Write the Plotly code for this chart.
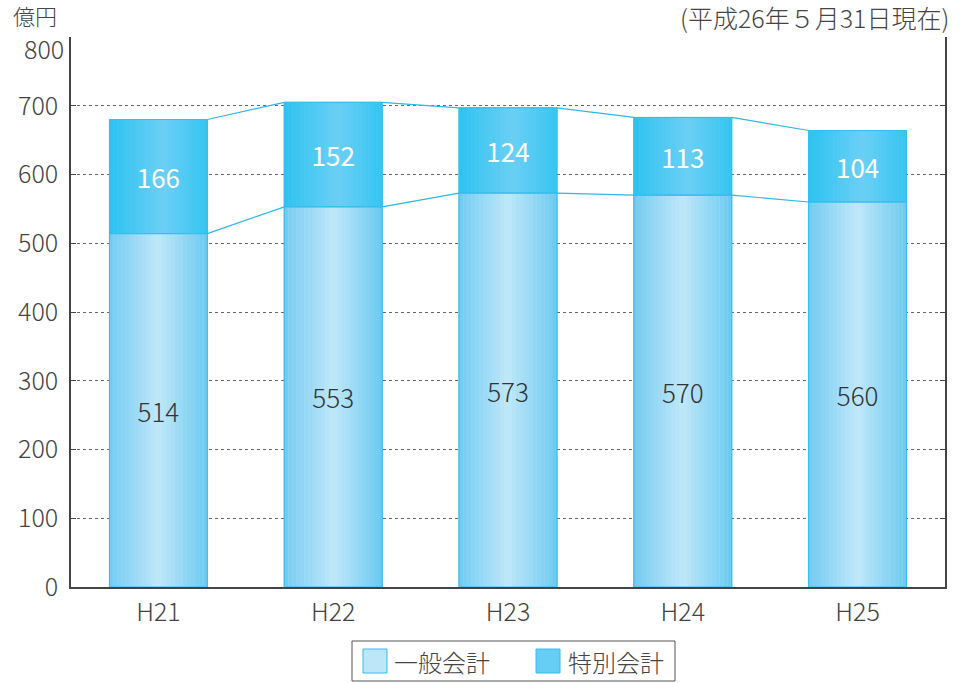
import plotly.graph_objects as go

categories = ["H21", "H22", "H23", "H24", "H25"]
general = [514, 553, 573, 570, 560]   # 一般会計
special = [166, 152, 124, 113, 104]   # 特別会計
series_names = ["一般会計", "特別会計"]
y_ticks = [0, 100, 200, 300, 400, 500, 600, 700, 800]
y_ticktext = ["0", "100", "200", "300", "400", "500", "600", "700", ""]

FONT = "Noto Sans CJK JP, Noto Sans, sans-serif"
TXT = "#444444"
EDGE = "#36bdec"
BAR_W = 0.56
N_STRIPS = 24
FS = 25
FW = 300

low_stops = [(0.0, (0x72, 0xcb, 0xf2)), (0.5, (0xc0, 0xe7, 0xf9)), (1.0, (0x6a, 0xca, 0xf0))]
up_stops = [(0.0, (0x2c, 0xc3, 0xf1)), (0.55, (0x6c, 0xcf, 0xf5)), (1.0, (0x34, 0xc4, 0xf2))]

L_PLOT, R_PLOT, T_PLOT, B_PLOT = 71, 945, 37, 587
PW, PH = R_PLOT - L_PLOT, B_PLOT - T_PLOT


def px_x(p):
    return (p - L_PLOT) / PW


def px_y(p):
    return (B_PLOT - p) / PH


def grad(stops, t):
    for (t0, c0), (t1, c1) in zip(stops[:-1], stops[1:]):
        if t0 <= t <= t1:
            f = (t - t0) / (t1 - t0)
            c = [round(a + (b - a) * f) for a, b in zip(c0, c1)]
            return "rgb(%d,%d,%d)" % tuple(c)
    return "rgb(%d,%d,%d)" % stops[-1][1]


x = list(range(len(categories)))
totals = [g + s for g, s in zip(general, special)]

fig = go.Figure()

# base traces (carry the series names)
fig.add_trace(go.Bar(x=x, y=general, base=0, width=BAR_W, name=series_names[0], showlegend=False,
                     marker=dict(color="#bde6f8", line=dict(color=EDGE, width=1))))
fig.add_trace(go.Bar(x=x, y=special, base=general, width=BAR_W, name=series_names[1], showlegend=False,
                     marker=dict(color="#66cdf4", line=dict(color=EDGE, width=1))))

# gradient strips
sw = BAR_W / N_STRIPS
for k in range(N_STRIPS):
    t = (k + 0.5) / N_STRIPS
    off = -BAR_W / 2 + k * sw
    fig.add_trace(go.Bar(x=x, y=general, base=0, width=sw * 1.03, offset=off,
                         marker=dict(color=grad(low_stops, t), line=dict(width=0)),
                         showlegend=False, hoverinfo="skip"))
    fig.add_trace(go.Bar(x=x, y=special, base=general, width=sw * 1.03, offset=off,
                         marker=dict(color=grad(up_stops, t), line=dict(width=0)),
                         showlegend=False, hoverinfo="skip"))

# outlines with labels
fig.add_trace(go.Bar(x=x, y=general, base=0, width=BAR_W, showlegend=False,
                     marker=dict(color="rgba(0,0,0,0)", line=dict(color=EDGE, width=1)),
                     text=[str(v) for v in general], textposition="inside",
                     insidetextanchor="middle", textangle=0,
                     textfont=dict(family=FONT, size=FS + 1, color="#333333", weight=FW)))
fig.add_trace(go.Bar(x=x, y=special, base=general, width=BAR_W, showlegend=False,
                     marker=dict(color="rgba(0,0,0,0)", line=dict(color=EDGE, width=1)),
                     text=[str(v) for v in special], textposition="inside",
                     insidetextanchor="middle", textangle=0,
                     textfont=dict(family=FONT, size=FS + 1, color="#ffffff", weight=400)))

# connector lines between bars
for tops in (general, totals):
    lx, ly = [], []
    for i in range(len(x) - 1):
        lx += [x[i] + BAR_W / 2, x[i + 1] - BAR_W / 2, None]
        ly += [tops[i], tops[i + 1], None]
    fig.add_trace(go.Scatter(x=lx, y=ly, mode="lines", showlegend=False,
                             line=dict(color="#2bb8ea", width=1.2), hoverinfo="skip"))

# manual legend (box, swatches, labels)
shapes = [
    dict(type="rect", xref="paper", yref="paper",
         x0=px_x(352), x1=px_x(675), y0=px_y(641), y1=px_y(681),
         line=dict(color="#555555", width=1), fillcolor="white"),
    dict(type="rect", xref="paper", yref="paper",
         x0=px_x(363), x1=px_x(387), y0=px_y(649), y1=px_y(673),
         line=dict(color=EDGE, width=1), fillcolor="#bde6f8"),
    dict(type="rect", xref="paper", yref="paper",
         x0=px_x(536), x1=px_x(560), y0=px_y(649), y1=px_y(673),
         line=dict(color=EDGE, width=1), fillcolor="#66cdf4"),
]

annotations = [
    dict(text="億円", xref="paper", yref="paper", x=px_x(12), y=px_y(15),
         xanchor="left", yanchor="middle", showarrow=False, borderpad=0,
         font=dict(family=FONT, size=22, color=TXT, weight=FW)),
    dict(text="(平成26年５月31日現在)", xref="paper", yref="paper", x=px_x(951), y=px_y(17),
         xanchor="right", yanchor="middle", showarrow=False,
         font=dict(family=FONT, size=25, color=TXT, weight=FW)),
    dict(text="800", xref="paper", yref="y", x=0, y=800, xanchor="right", yanchor="middle",
         xshift=-6, yshift=-11, showarrow=False, borderpad=0,
         font=dict(family=FONT, size=FS, color=TXT, weight=FW)),
    dict(text=series_names[0], xref="paper", yref="paper", x=px_x(392), y=px_y(661),
         xanchor="left", yanchor="middle", showarrow=False,
         font=dict(family=FONT, size=24, color=TXT, weight=FW)),
    dict(text=series_names[1], xref="paper", yref="paper", x=px_x(566), y=px_y(661),
         xanchor="left", yanchor="middle", showarrow=False,
         font=dict(family=FONT, size=24, color=TXT, weight=FW)),
]

fig.update_layout(
    width=966, height=683,
    margin=dict(l=L_PLOT, r=966 - R_PLOT, t=T_PLOT, b=683 - B_PLOT, autoexpand=False),
    paper_bgcolor="white", plot_bgcolor="white",
    barmode="overlay",
    showlegend=False,
    hovermode=False,
    font=dict(family=FONT, size=FS, color=TXT),
    xaxis=dict(range=[-0.5, len(x) - 0.5], tickvals=x, ticktext=categories,
               showline=True, linecolor="#444444", linewidth=1.5, ticks="",
               showgrid=False, zeroline=False, ticklabelstandoff=2, automargin=False,
               tickfont=dict(family=FONT, size=FS, color=TXT, weight=FW)),
    yaxis=dict(range=[0, 800], tickvals=y_ticks, ticktext=y_ticktext, showline=True,
               linecolor="#444444", linewidth=1.5, mirror="ticks", ticks="inside", ticklen=5,
               tickcolor="#444444", showgrid=True, gridcolor="#666666", gridwidth=1,
               griddash="3px,3px", zeroline=False, ticklabelstandoff=6, automargin=False,
               tickfont=dict(family=FONT, size=FS, color=TXT, weight=FW)),
    shapes=shapes,
    annotations=annotations,
)

fig.write_html("out.html", config={"displayModeBar": False},
               post_script="document.body.style.margin='0';document.body.style.overflow='hidden';")
